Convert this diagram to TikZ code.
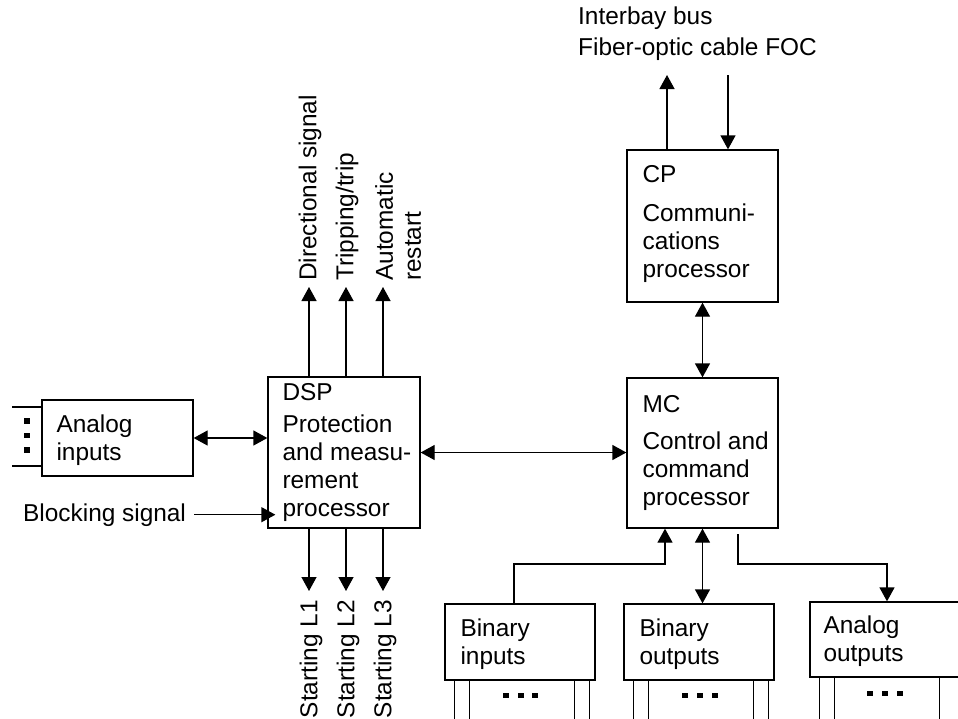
\documentclass[tikz,border=0pt]{standalone}
\usepackage{fontspec}
\setmainfont{Liberation Sans}
\usetikzlibrary{arrows.meta}
\newcommand{\lblfont}{\fontsize{24.4}{28}\selectfont}
\begin{document}
\begin{tikzpicture}[x=1pt,y=-1pt,
  every node/.style={font=\lblfont, inner sep=0pt},
  >={Triangle[length=14pt,width=15pt]},
  wire/.style={line width=1.3pt},
  unitbox/.style={draw, line width=1.3pt},
  boxtext/.style={align=left, anchor=west},
  vlabel/.style={rotate=90},
]
\useasboundingbox (0,0) rectangle (958,718);
\clip (0,0) rectangle (958,718);

% ---------- processing units ----------
\node[unitbox, minimum width=151pt, minimum height=76pt] (ain) at (117.5,438) {};
\node[boxtext] (aintext) at ([xshift=15pt,yshift=-2.5pt]ain.west) {Analog\\inputs};

\node[unitbox, minimum width=152pt, minimum height=151pt] (dsp) at (344,452.5) {};
\node[boxtext] (dsptext) at ([xshift=15pt]dsp.west) {DSP\\[4pt]Protection\\and measu-\\rement\\processor};

\node[unitbox, minimum width=151pt, minimum height=152pt] (cp) at (702.5,226) {};
\node[boxtext] (cptext) at ([xshift=16pt,yshift=2pt]cp.west) {CP\\[11pt]Communi-\\cations\\processor};

\node[unitbox, minimum width=151pt, minimum height=150pt] (mc) at (702.5,453) {};
\node[boxtext] (mctext) at ([xshift=16pt]mc.west) {MC\\[9pt]Control and\\command\\processor};

\node[unitbox, minimum width=150pt, minimum height=76pt] (bi) at (520,642) {};
\node[boxtext] (bitext) at ([xshift=16pt,yshift=-2pt]bi.west) {Binary\\inputs};

\node[unitbox, minimum width=150pt, minimum height=76pt] (bo) at (699,642) {};
\node[boxtext] (botext) at ([xshift=16pt,yshift=-2pt]bo.west) {Binary\\outputs};

\node[unitbox, minimum width=150pt, minimum height=75pt] (ao) at (885,639.5) {};
\node[boxtext] (aotext) at ([xshift=14pt,yshift=-2pt]ao.west) {Analog\\outputs};

% ---------- analog input terminals ----------
\coordinate (l1) at (12,407);
\coordinate (l2) at (12,466);
\draw[wire] (l1) -- (l1 -| ain.west);
\draw[wire] (l2) -- (l2 -| ain.west);
\foreach \y in {418,432.5,447}
  \fill (24,\y) rectangle (29.5,\y+5.5);

% ---------- DSP connections ----------
\draw[wire,<->] (ain.east) -- (ain.east -| dsp.west);
\node[anchor=base west] (blk) at (23,521) {Blocking signal};
\draw[wire,->] ([xshift=8pt]blk.east) -- ([xshift=8pt]blk.east -| dsp.west);
\draw[wire,<->] (dsp.east) -- (dsp.east -| mc.west);

% outputs on top of the DSP
\coordinate (o1) at (309,287);
\coordinate (o2) at (346,287);
\coordinate (o3) at (383,287);
\draw[wire,->] (o1 |- dsp.north) -- (o1);
\draw[wire,->] (o2 |- dsp.north) -- (o2);
\draw[wire,->] (o3 |- dsp.north) -- (o3);
\node[vlabel, anchor=west] (dirsig) at (310,281) {Directional signal};
\node[vlabel, anchor=west] (tripsig) at (347,281) {Tripping/trip};
\node[vlabel, anchor=north west, align=left] (autore) at (375,281) {Automatic\\restart};

% starting signals below the DSP
\coordinate (s1) at (309,591);
\coordinate (s2) at (346,591);
\coordinate (s3) at (383,591);
\draw[wire,->] (s1 |- dsp.south) -- (s1);
\draw[wire,->] (s2 |- dsp.south) -- (s2);
\draw[wire,->] (s3 |- dsp.south) -- (s3);
\node[vlabel, anchor=east] (st1) at (311,600) {Starting L1};
\node[vlabel, anchor=east] (st2) at (348,600) {Starting L2};
\node[vlabel, anchor=east] (st3) at (385,600) {Starting L3};

% ---------- communications ----------
\node[anchor=base west] (ibus) at (578,24) {Interbay bus};
\node[anchor=base west] (foc) at (578,55) {Fiber-optic cable FOC};
\coordinate (bu) at (667,75);
\coordinate (bd) at (728,75);
\draw[wire,->] (bu |- cp.north) -- (bu);
\draw[wire,->] (bd) -- (bd |- cp.north);
\draw[wire,<->] (cp.south) -- (mc.north);

% ---------- I/O modules ----------
\coordinate (j1) at (514,564);
\coordinate (j2) at (665,564);
\draw[wire,->] (j1 |- bi.north) -- (j1) -- (j2) -- (j2 |- mc.south);
\draw[wire,<->] (mc.south) -- (mc.south |- bo.north);
\coordinate (j3) at (738,534);
\coordinate (j4) at (738,564);
\coordinate (j5) at (887,564);
\draw[wire,->] (j3) -- (j4) -- (j5) -- (j5 |- ao.north);

% module terminals
\foreach \m in {bi,bo}
  \foreach \dx in {10,25,130,145}
    \draw[wire] ([xshift=\dx pt]\m.south west) -- ++(0,40);
\foreach \dx in {10,25,130}
  \draw[wire] ([xshift=\dx pt]ao.south west) -- ++(0,42);
\foreach \x in {505.5,520.5,535,684.5,699.5,714.5}
  \fill (\x-3,692.5) rectangle (\x+3,697.5);
\foreach \x in {869.5,884.5,899.5}
  \fill (\x-3,690.5) rectangle (\x+3,695.5);
\end{tikzpicture}
\end{document}
